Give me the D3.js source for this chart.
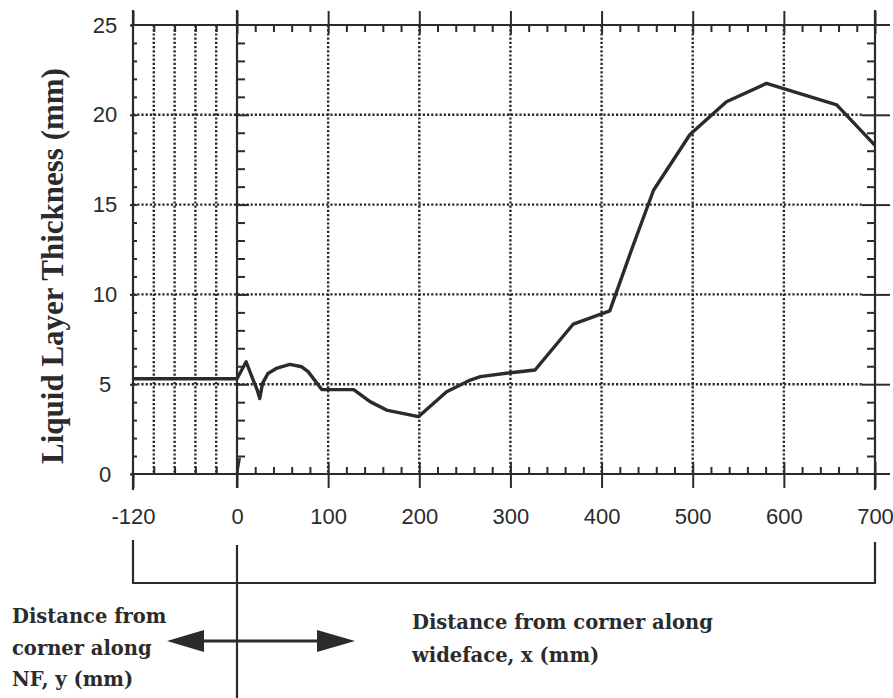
<!DOCTYPE html>
<html>
<head>
<meta charset="utf-8">
<script src="https://cdn.jsdelivr.net/npm/d3@7"></script>
<style>
  html, body { margin: 0; padding: 0; background: #ffffff; }
  svg { display: block; }
</style>
</head>
<body>
<svg id="chart" width="893" height="698"></svg>
<script>
// ---------------- data ----------------
const profileX = [-120, 0, 10, 18, 22, 25, 28, 34, 44, 58, 71, 78, 93, 128, 146, 164, 199, 230, 256, 267, 300, 327, 369, 409, 433, 457, 497, 537, 581, 658, 700];
const profileY = [5.3, 5.3, 6.25, 5.2, 4.7, 4.2, 5.05, 5.6, 5.9, 6.1, 5.97, 5.7, 4.7, 4.7, 4.03, 3.56, 3.19, 4.58, 5.23, 5.42, 5.64, 5.79, 8.35, 9.08, 12.5, 15.8, 18.9, 20.73, 21.75, 20.55, 18.3];
const stubX = [0, 3];
const stubY = [0, 0.9];

const xMajorTicks = [-120, 0, 100, 200, 300, 400, 500, 600, 700];
const xTickLabels = ["-120", "0", "100", "200", "300", "400", "500", "600", "700"];
const yMajorTicks = [0, 5, 10, 15, 20, 25];
const yTickLabels = ["0", "5", "10", "15", "20", "25"];
const nfGridX = [-96, -72, -48, -24];
const wfGridX = [100, 200, 300, 400, 500, 600];
const yGrid = [5, 10, 15, 20];

const yTitle = "Liquid Layer Thickness (mm)";
const nfLabel = ["Distance from", "corner along", "NF, y (mm)"];
const wfLabel = ["Distance from corner along", "wideface, x (mm)"];

// ---------------- setup ----------------
const ink = "#2b2b2b";
const svg = d3.select("#chart");
const x = d3.scaleLinear().domain([-120, 0, 700]).range([133, 237, 875]);
const y = d3.scaleLinear().domain([0, 25]).range([474, 25]);

const xMinorWF = d3.range(20, 700, 20).filter(v => v % 100 !== 0);
const yMinor = d3.range(1, 25, 1).filter(v => v % 5 !== 0);
const yAll = d3.range(1, 25, 1);

function clean(g) {
  g.select(".domain").remove();
  g.selectAll("line").attr("stroke", ink).attr("stroke-width", 2);
}

// ---------------- gridlines (dotted) ----------------
const grid = svg.append("g").attr("stroke", ink).attr("stroke-width", 2.4).attr("stroke-dasharray", "2.2,2");
grid.selectAll("line.h").data(yGrid).join("line")
  .attr("x1", x(-120)).attr("x2", 862)
  .attr("y1", d => y(d)).attr("y2", d => y(d));
grid.selectAll("line.v").data(nfGridX.concat(wfGridX)).join("line")
  .attr("class", "v")
  .attr("x1", d => x(d)).attr("x2", d => x(d))
  .attr("y1", y(25)).attr("y2", y(0));

// ---------------- frame lines ----------------
const frame = svg.append("g").attr("stroke", ink).attr("stroke-width", 2.2);
frame.append("line").attr("x1", x(-120) - 2).attr("x2", 890).attr("y1", y(25)).attr("y2", y(25));
frame.append("line").attr("x1", x(-120) - 2).attr("x2", 890).attr("y1", y(0)).attr("y2", y(0));
frame.append("line").attr("x1", x(-120)).attr("x2", x(-120)).attr("y1", 10).attr("y2", 490);
frame.append("line").attr("x1", x(0)).attr("x2", x(0)).attr("y1", 10).attr("y2", 488);
frame.append("line").attr("x1", x(700)).attr("x2", x(700)).attr("y1", 10).attr("y2", 490);

// ---------------- axes / ticks ----------------
svg.append("g").attr("transform", `translate(0,${y(0)})`)
  .call(d3.axisBottom(x).tickValues(xMajorTicks).tickFormat((d, i) => xTickLabels[i]).tickSize(14).tickPadding(20))
  .call(clean)
  .call(g => g.selectAll("text").attr("font-family", "'Liberation Sans', Arial, sans-serif").attr("font-size", 22).attr("fill", ink));
svg.append("g").attr("transform", `translate(0,${y(0)})`)
  .call(d3.axisTop(x).tickValues(xMajorTicks.slice(1)).tickSize(12).tickFormat("")).call(clean);
svg.append("g").attr("transform", `translate(0,${y(0)})`)
  .call(d3.axisTop(x).tickValues(xMinorWF.concat(nfGridX)).tickSize(7).tickFormat("")).call(clean);
svg.append("g").attr("transform", `translate(0,${y(25)})`)
  .call(d3.axisTop(x).tickValues(xMajorTicks).tickSize(14).tickFormat("")).call(clean);
svg.append("g").attr("transform", `translate(0,${y(25)})`)
  .call(d3.axisBottom(x).tickValues(xMajorTicks.slice(1)).tickSize(9).tickFormat("")).call(clean);
svg.append("g").attr("transform", `translate(0,${y(25)})`)
  .call(d3.axisBottom(x).tickValues(xMinorWF.concat(nfGridX)).tickSize(7).tickFormat("")).call(clean);

svg.append("g").attr("transform", `translate(${x(-120)},0)`)
  .call(d3.axisLeft(y).tickValues(yMajorTicks).tickFormat((d, i) => yTickLabels[i]).tickSize(3).tickPadding(25))
  .call(clean)
  .call(g => g.selectAll("text")
    .attr("font-family", "'Liberation Sans', Arial, sans-serif").attr("font-size", 22)
    .attr("fill", ink).attr("text-anchor", "middle").attr("x", -28));
svg.append("g").attr("transform", `translate(${x(-120)},0)`)
  .call(d3.axisRight(y).tickValues(yAll).tickSize(4).tickFormat("")).call(clean);
svg.append("g").attr("transform", `translate(${x(0)},0)`)
  .call(d3.axisRight(y).tickValues(yMinor).tickSize(8).tickFormat("")).call(clean);
svg.append("g").attr("transform", `translate(${x(0)},0)`)
  .call(d3.axisRight(y).tickValues(yGrid).tickSize(12).tickFormat("")).call(clean);
svg.append("g").attr("transform", `translate(${x(700)},0)`)
  .call(d3.axisLeft(y).tickValues(yMinor).tickSize(8).tickFormat("")).call(clean);
svg.append("g").attr("transform", `translate(${x(700)},0)`)
  .call(d3.axisLeft(y).tickValues(yGrid).tickSize(13).tickFormat("")).call(clean);
svg.append("g").attr("transform", `translate(${x(700)},0)`)
  .call(d3.axisRight(y).tickValues(yGrid).tickSize(15).tickFormat("")).call(clean);

// ---------------- data line ----------------
const line = d3.line().x(d => x(d[0])).y(d => y(d[1]));
svg.append("path")
  .datum(d3.zip(profileX, profileY))
  .attr("d", line).attr("fill", "none").attr("stroke", ink)
  .attr("stroke-width", 3.4).attr("stroke-linejoin", "round");
svg.append("path")
  .datum(d3.zip(stubX, stubY))
  .attr("d", line).attr("fill", "none").attr("stroke", ink).attr("stroke-width", 2.5);

// ---------------- y title ----------------
svg.append("text")
  .attr("transform", `translate(63,266) rotate(-90)`)
  .attr("text-anchor", "middle")
  .attr("font-family", "'Liberation Serif', 'Times New Roman', serif")
  .attr("font-weight", "bold").attr("font-size", 31).attr("fill", ink)
  .text(yTitle);

// ---------------- bracket & arrows ----------------
const deco = svg.append("g").attr("stroke", ink).attr("stroke-width", 2.2).attr("fill", "none");
deco.append("path").attr("d", `M${x(-120)},540 V583 H${x(700)} V542`);
deco.append("line").attr("x1", x(0)).attr("x2", x(0)).attr("y1", 545).attr("y2", 698);
deco.append("line").attr("x1", 200).attr("x2", 320).attr("y1", 641).attr("y2", 641).attr("stroke-width", 2.8);
svg.append("path").attr("d", "M167,641 L204,630 L204,652 Z").attr("fill", ink);
svg.append("path").attr("d", "M355,641 L317,630 L317,652 Z").attr("fill", ink);

const serifBold = "'DejaVu Serif', serif";
svg.append("g").selectAll("text").data(nfLabel).join("text")
  .attr("x", 12).attr("y", (d, i) => 623 + i * 31.5)
  .attr("font-family", serifBold).attr("font-weight", "bold").attr("font-size", 19.5)
  .attr("fill", ink).text(d => d);
svg.append("g").selectAll("text").data(wfLabel).join("text")
  .attr("x", 412).attr("y", (d, i) => 629 + i * 33)
  .attr("font-family", serifBold).attr("font-weight", "bold").attr("font-size", 19.5)
  .attr("fill", ink).text(d => d);
</script>
</body>
</html>
